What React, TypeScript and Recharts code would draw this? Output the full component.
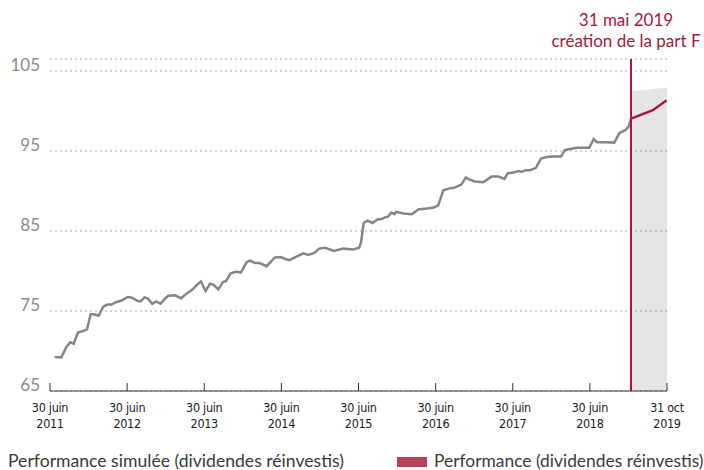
import React from 'react';
import { ComposedChart, Line, Area, XAxis, YAxis, CartesianGrid, ReferenceLine } from 'recharts';

// Position on the time axis, counted in months from 30 June 2011 (axis runs 0..96)
const simMonths = [
  0.73, 1.76, 2.54, 3.16, 3.69, 4.36, 5.03, 5.76, 6.33, 6.85, 7.58, 8.25, 8.92, 9.54, 10.3, 11.2,
  12.1, 12.65, 13.7, 14.1, 14.7, 15.25, 15.9, 16.5, 17.2, 17.9, 18.4, 19.45, 20.4, 21.3, 22.2, 22.9,
  23.5, 24.2, 24.9, 25.4, 26.2, 26.9, 27.4, 28.1, 28.95, 29.7, 30.6, 31.1, 31.9, 32.6, 33.7, 35.0,
  35.9, 36.6, 37.25, 38.1, 39.4, 40.2, 41.1, 41.9, 42.8, 44.2, 45.6, 47.2, 48.1, 48.4, 48.8, 49.4,
  50.2, 50.95, 51.6, 52.1, 52.6, 53.1, 53.6, 53.85, 55.0, 56.3, 57.3, 58.6, 59.6, 60.4, 61.2, 62.0,
  62.85, 64.0, 64.7, 65.2, 66.1, 67.4, 68.7, 69.75, 70.7, 71.2, 72.1, 72.8, 73.4, 74.0, 74.7, 75.6,
  76.4, 77.3, 78.3, 79.5, 80.1, 80.9, 82.0, 83.9, 84.6, 85.1, 86.6, 87.8, 88.6, 89.5, 90.0, 90.4,
];
const simValues = [
  69.25, 69.2, 70.5, 71.1, 70.9, 72.3, 72.46, 72.7, 74.6, 74.6, 74.4, 75.5, 75.8, 75.8, 76.1, 76.34,
  76.75, 76.7, 76.25, 76.2, 76.7, 76.55, 75.9, 76.2, 75.9, 76.55, 76.9, 76.96, 76.6, 77.2, 77.7, 78.3,
  78.7, 77.5, 78.4, 78.3, 77.7, 78.6, 78.75, 79.7, 79.9, 79.8, 81.1, 81.3, 81.0, 81.0, 80.6, 81.7,
  81.75, 81.5, 81.35, 81.7, 82.2, 82.0, 82.25, 82.8, 82.9, 82.5, 82.8, 82.7, 82.9, 83.6, 86.0, 86.3,
  86.0, 86.45, 86.5, 86.7, 86.8, 87.3, 87.1, 87.4, 87.2, 87.1, 87.7, 87.8, 87.9, 88.2, 90.1, 90.3,
  90.4, 90.8, 91.7, 91.45, 91.2, 91.1, 91.8, 91.8, 91.5, 92.2, 92.3, 92.5, 92.4, 92.6, 92.6, 92.9,
  94.05, 94.25, 94.3, 94.3, 95.1, 95.25, 95.4, 95.4, 96.5, 96.1, 96.1, 96.05, 97.25, 97.6, 98.0, 99.05,
];

const fundMonths = [90.4, 93.8, 95.95];
const fundValues = [99.05, 100.1, 101.34];

const bandMonths = [90.4, 93.0, 96.0];
const bandTop = [102.5, 102.7, 102.9];

const launchMonth = 90.4;
const launchLabel = ['31 mai 2019', 'création de la part F'];

const xTickPositions = [0, 12, 24, 36, 48, 60, 72, 84, 96];
const xTickLabels = [
  ['30 juin', '2011'], ['30 juin', '2012'], ['30 juin', '2013'], ['30 juin', '2014'],
  ['30 juin', '2015'], ['30 juin', '2016'], ['30 juin', '2017'], ['30 juin', '2018'],
  ['31 oct', '2019'],
];
const yTicks = [65, 75, 85, 95, 105];

const legendLabels = ['Performance simulée (dividendes réinvestis)', 'Performance (dividendes réinvestis)'];

const simData = simMonths.map((t, i) => ({ t, sim: simValues[i] }));
const fundData = fundMonths.map((t, i) => ({ t, fund: fundValues[i] }));
const bandData = bandMonths.map((t, i) => ({ t, band: bandTop[i] }));

const RED = '#a5173b';
const GREY = '#858585';
const FONT = 'Lato, "Open Sans", sans-serif';
const NARROW = '"Liberation Sans Narrow", "DejaVu Sans Condensed", Roboto, sans-serif';

const YTick = (props: any) => {
  const { x, y, payload } = props;
  return (
    <text x={x} y={y} textAnchor="end" fill="#8a8a8a" fontSize={17} fontFamily={FONT}>
      {payload.value}
    </text>
  );
};

const XTick = (props: any) => {
  const { x, y, payload } = props;
  const i = xTickPositions.indexOf(payload.value);
  const lab = xTickLabels[i] || ['', ''];
  return (
    <g>
      <line x1={x} x2={x} y1={y} y2={y - 8} stroke="#333" strokeWidth={1} />
      <text x={x} y={y + 21} textAnchor="middle" fill="#1a1a1a" fontSize={12.5} letterSpacing={-0.3} fontFamily={NARROW}>
        {lab[0]}
      </text>
      <text x={x} y={y + 37} textAnchor="middle" fill="#1a1a1a" fontSize={12.5} letterSpacing={-0.3} fontFamily={NARROW}>
        {lab[1]}
      </text>
    </g>
  );
};

const LaunchLabel = (props: any) => {
  const vb = props.viewBox || {};
  const cx = (vb.x || 0) - 5;
  return (
    <g>
      <text x={cx} y={26} textAnchor="middle" fill={RED} fontSize={17} fontFamily={FONT}>
        {launchLabel[0]}
      </text>
      <text x={cx} y={47} textAnchor="middle" fill={RED} fontSize={17} fontFamily={FONT}>
        {launchLabel[1]}
      </text>
    </g>
  );
};

export default function App() {
  return (
    <div style={{ position: 'absolute', left: 0, top: 0, width: 704, height: 470, background: '#fff' }}>
      <ComposedChart
        width={704}
        height={470}
        margin={{ top: 59, right: 37, bottom: 49, left: 0 }}
      >
        <CartesianGrid vertical={false} stroke="#a8a8a8" strokeDasharray="2 3" />
        <XAxis
          type="number"
          dataKey="t"
          domain={[0, 96]}
          ticks={xTickPositions}
          interval={0}
          allowDataOverflow
          height={30}
          tickSize={0}
          tickMargin={0}
          tickLine={false}
          axisLine={{ stroke: '#333', strokeWidth: 1 }}
          tick={XTick}
        />
        <YAxis
          type="number"
          domain={[65, 106.5]}
          ticks={yTicks}
          interval={0}
          allowDataOverflow
          width={50}
          tickSize={0}
          tickMargin={10}
          axisLine={false}
          tickLine={false}
          tick={YTick}
        />
        <Area
          data={bandData}
          dataKey="band"
          type="monotone"
          stroke="none"
          fill="#000"
          fillOpacity={0.1}
          baseValue={65}
          isAnimationActive={false}
        />
        <Line
          data={simData}
          dataKey="sim"
          type="linear"
          stroke={GREY}
          strokeWidth={2.5}
          dot={false}
          isAnimationActive={false}
        />
        <ReferenceLine x={launchMonth} stroke={RED} strokeWidth={2} label={LaunchLabel} />
        <Line
          data={fundData}
          dataKey="fund"
          type="linear"
          stroke={RED}
          strokeWidth={2.5}
          dot={false}
          isAnimationActive={false}
        />
      </ComposedChart>
      <svg width={704} height={470} style={{ position: 'absolute', left: 0, top: 0, pointerEvents: 'none' }}>
        <text x={8} y={467} fill="#3a3a3a" fontSize={17.6} fontFamily={FONT}>
          {legendLabels[0]}
        </text>
        <rect x={397} y={457} width={30} height={10} fill="#b3445a" />
        <text x={434} y={467} fill="#3a3a3a" fontSize={17.4} fontFamily={FONT}>
          {legendLabels[1]}
        </text>
      </svg>
    </div>
  );
}
